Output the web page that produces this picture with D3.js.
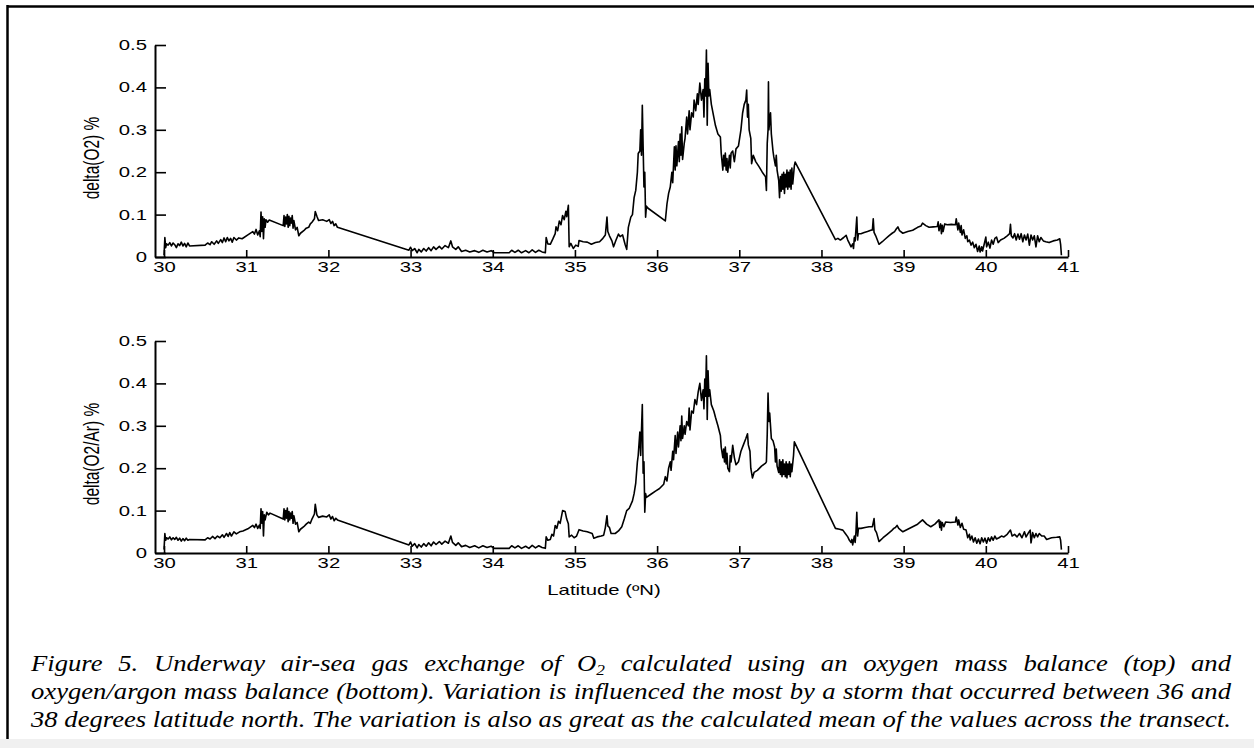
<!DOCTYPE html>
<html lang="en">
<head>
<meta charset="UTF-8">
<title>Figure 5 - delta O2</title>
<script src="https://cdn.jsdelivr.net/npm/d3@7"></script>
<style>
  body { margin: 0; background: #fff; overflow: hidden; }
</style>
</head>
<body>
<script>
// latitude (ºN), delta(O2) %
var o2Series = [
  [30.00,0.004],[30.01,0.046],[30.02,0.022],[30.03,0.031],[30.05,0.028],[30.07,0.034],[30.09,0.026],
  [30.11,0.033],[30.13,0.029],[30.15,0.022],[30.17,0.031],[30.19,0.027],[30.21,0.035],[30.23,0.026],
  [30.25,0.032],[30.27,0.024],[30.29,0.033],[30.31,0.026],[30.50,0.028],[30.53,0.033],[30.56,0.029],
  [30.58,0.036],[30.61,0.030],[30.64,0.038],[30.66,0.032],[30.69,0.041],[30.71,0.034],[30.73,0.045],
  [30.75,0.036],[30.77,0.046],[30.79,0.038],[30.81,0.044],[30.83,0.035],[30.85,0.046],[30.88,0.040],
  [30.91,0.045],[30.95,0.043],[31.02,0.052],[31.08,0.060],[31.10,0.054],[31.12,0.065],[31.14,0.052],
  [31.16,0.062],[31.17,0.048],[31.18,0.106],[31.19,0.060],[31.20,0.095],[31.21,0.043],[31.22,0.090],
  [31.23,0.070],[31.24,0.088],[31.26,0.082],[31.28,0.087],[31.45,0.074],[31.46,0.098],[31.47,0.072],
  [31.48,0.094],[31.49,0.078],[31.50,0.100],[31.51,0.070],[31.52,0.096],[31.53,0.074],[31.54,0.092],
  [31.55,0.080],[31.56,0.098],[31.57,0.068],[31.58,0.086],[31.60,0.064],[31.62,0.070],[31.64,0.050],
  [31.66,0.056],[31.70,0.062],[31.73,0.068],[31.76,0.070],[31.78,0.078],[31.80,0.082],[31.83,0.090],
  [31.84,0.107],[31.86,0.096],[31.88,0.086],[31.93,0.088],[31.98,0.084],[32.01,0.088],[32.03,0.079],
  [32.05,0.084],[32.07,0.074],[32.09,0.078],[32.11,0.070],[32.98,0.016],[33.00,0.023],[33.02,0.015],
  [33.05,0.020],[33.08,0.010],[33.10,0.018],[33.13,0.012],[33.16,0.020],[33.19,0.014],[33.22,0.022],
  [33.25,0.015],[33.28,0.024],[33.31,0.018],[33.35,0.025],[33.38,0.019],[33.42,0.027],[33.46,0.022],
  [33.49,0.038],[33.51,0.024],[33.55,0.018],[33.58,0.024],[33.62,0.013],[33.67,0.016],[33.72,0.012],
  [33.78,0.015],[33.83,0.011],[33.88,0.016],[33.93,0.012],[33.98,0.015],[34.02,0.010],[34.20,0.010],
  [34.23,0.016],[34.27,0.011],[34.31,0.016],[34.35,0.010],[34.40,0.015],[34.44,0.010],[34.48,0.017],
  [34.52,0.011],[34.56,0.016],[34.60,0.012],[34.64,0.010],[34.65,0.046],[34.67,0.031],[34.70,0.030],
  [34.73,0.042],[34.76,0.055],[34.77,0.071],[34.79,0.062],[34.81,0.085],[34.83,0.076],[34.85,0.098],
  [34.87,0.088],[34.89,0.108],[34.90,0.095],[34.92,0.122],[34.93,0.024],[34.95,0.032],[34.98,0.020],
  [35.01,0.028],[35.04,0.025],[35.05,0.039],[35.10,0.036],[35.15,0.035],[35.20,0.030],[35.25,0.034],
  [35.30,0.036],[35.34,0.044],[35.37,0.052],[35.39,0.094],[35.40,0.060],[35.42,0.050],[35.45,0.038],
  [35.47,0.024],[35.50,0.040],[35.53,0.054],[35.55,0.048],[35.58,0.052],[35.61,0.030],[35.63,0.018],
  [35.65,0.070],[35.68,0.094],[35.70,0.100],[35.72,0.140],[35.74,0.157],[35.76,0.200],[35.77,0.244],
  [35.79,0.250],[35.80,0.300],[35.81,0.240],[35.82,0.358],[35.83,0.260],[35.84,0.165],[35.85,0.200],
  [35.86,0.094],[35.87,0.120],[35.89,0.115],[36.10,0.085],[36.12,0.125],[36.14,0.150],[36.16,0.165],
  [36.18,0.200],[36.19,0.175],[36.21,0.260],[36.22,0.205],[36.23,0.262],[36.24,0.215],[36.26,0.272],
  [36.27,0.225],[36.28,0.290],[36.29,0.240],[36.30,0.307],[36.31,0.230],[36.33,0.268],[36.34,0.280],
  [36.36,0.330],[36.37,0.290],[36.39,0.345],[36.40,0.300],[36.42,0.340],[36.44,0.330],[36.45,0.370],
  [36.47,0.345],[36.49,0.385],[36.50,0.360],[36.52,0.410],[36.54,0.370],[36.56,0.395],[36.57,0.330],
  [36.58,0.420],[36.59,0.380],[36.60,0.488],[36.61,0.311],[36.62,0.457],[36.63,0.380],[36.64,0.395],
  [36.66,0.360],[36.69,0.330],[36.71,0.310],[36.74,0.290],[36.77,0.283],[36.78,0.245],[36.80,0.205],
  [36.81,0.240],[36.82,0.215],[36.83,0.245],[36.84,0.205],[36.85,0.232],[36.86,0.200],[36.88,0.240],
  [36.89,0.210],[36.90,0.245],[36.92,0.250],[36.94,0.225],[36.96,0.255],[36.99,0.262],[37.02,0.300],
  [37.04,0.339],[37.06,0.360],[37.08,0.370],[37.09,0.394],[37.10,0.330],[37.11,0.360],[37.12,0.300],
  [37.14,0.280],[37.15,0.220],[37.17,0.240],[37.20,0.225],[37.24,0.213],[37.28,0.200],[37.32,0.189],
  [37.33,0.157],[37.34,0.268],[37.35,0.300],[37.355,0.413],[37.36,0.300],[37.38,0.340],[37.39,0.290],
  [37.41,0.250],[37.42,0.236],[37.44,0.215],[37.45,0.240],[37.46,0.205],[37.48,0.180],[37.49,0.140],
  [37.50,0.190],[37.51,0.155],[37.52,0.195],[37.53,0.160],[37.54,0.200],[37.55,0.150],[37.56,0.195],
  [37.57,0.165],[37.58,0.205],[37.59,0.160],[37.60,0.200],[37.61,0.165],[37.62,0.205],[37.63,0.160],
  [37.64,0.210],[37.65,0.172],[37.67,0.215],[37.68,0.224],[38.17,0.041],[38.20,0.044],[38.23,0.040],
  [38.27,0.046],[38.30,0.051],[38.32,0.040],[38.34,0.032],[38.36,0.024],[38.38,0.031],[38.39,0.020],
  [38.40,0.045],[38.41,0.038],[38.43,0.094],[38.44,0.040],[38.45,0.055],[38.48,0.055],[38.52,0.058],
  [38.56,0.060],[38.60,0.063],[38.62,0.064],[38.63,0.090],[38.64,0.058],[38.66,0.050],[38.70,0.030],
  [38.74,0.036],[38.78,0.043],[38.82,0.050],[38.86,0.056],[38.89,0.060],[38.91,0.066],[38.93,0.071],
  [38.95,0.062],[38.99,0.056],[39.05,0.060],[39.11,0.063],[39.17,0.070],[39.21,0.073],[39.23,0.080],
  [39.27,0.074],[39.31,0.070],[39.36,0.071],[39.41,0.072],[39.42,0.083],[39.43,0.062],[39.45,0.078],
  [39.46,0.055],[39.47,0.075],[39.48,0.060],[39.50,0.078],[39.53,0.076],[39.58,0.077],[39.63,0.076],
  [39.64,0.090],[39.66,0.064],[39.67,0.080],[39.69,0.058],[39.70,0.074],[39.71,0.052],[39.73,0.064],
  [39.75,0.044],[39.77,0.050],[39.78,0.036],[39.80,0.040],[39.82,0.028],[39.84,0.035],[39.86,0.022],
  [39.88,0.030],[39.90,0.013],[39.92,0.026],[39.93,0.012],[39.95,0.024],[39.96,0.014],[39.98,0.030],
  [40.00,0.047],[40.01,0.024],[40.03,0.035],[40.05,0.021],[40.07,0.040],[40.09,0.030],[40.11,0.044],
  [40.13,0.047],[40.15,0.034],[40.18,0.040],[40.22,0.044],[40.26,0.050],[40.29,0.055],[40.30,0.077],
  [40.31,0.050],[40.33,0.045],[40.35,0.055],[40.37,0.040],[40.39,0.054],[40.41,0.042],[40.43,0.055],
  [40.45,0.036],[40.47,0.052],[40.49,0.040],[40.51,0.054],[40.53,0.028],[40.55,0.052],[40.57,0.040],
  [40.59,0.050],[40.61,0.024],[40.63,0.050],[40.65,0.036],[40.67,0.046],[40.70,0.038],[40.73,0.036],
  [40.77,0.034],[40.82,0.038],[40.87,0.040],[40.90,0.043],[40.91,0.030],[40.92,0.004]
];

// latitude (ºN), delta(O2/Ar) %
var o2arSeries = [
  [30.00,0.008],[30.01,0.046],[30.02,0.030],[30.03,0.036],[30.05,0.033],[30.07,0.038],[30.09,0.031],
  [30.11,0.036],[30.13,0.032],[30.15,0.037],[30.17,0.030],[30.19,0.035],[30.21,0.028],[30.23,0.034],
  [30.25,0.029],[30.27,0.035],[30.29,0.030],[30.31,0.032],[30.50,0.031],[30.53,0.036],[30.56,0.033],
  [30.59,0.039],[30.62,0.034],[30.65,0.040],[30.68,0.036],[30.71,0.043],[30.73,0.037],[30.76,0.046],
  [30.78,0.039],[30.80,0.048],[30.82,0.040],[30.85,0.050],[30.88,0.045],[30.92,0.050],[30.96,0.052],
  [31.02,0.057],[31.08,0.065],[31.10,0.060],[31.12,0.068],[31.14,0.058],[31.16,0.066],[31.17,0.058],
  [31.18,0.104],[31.19,0.070],[31.20,0.098],[31.21,0.040],[31.22,0.090],[31.23,0.078],[31.25,0.096],
  [31.27,0.090],[31.29,0.094],[31.45,0.080],[31.46,0.104],[31.47,0.078],[31.48,0.100],[31.49,0.082],
  [31.50,0.106],[31.51,0.074],[31.52,0.098],[31.53,0.078],[31.54,0.094],[31.55,0.082],[31.56,0.098],
  [31.57,0.070],[31.58,0.088],[31.60,0.068],[31.62,0.072],[31.64,0.050],[31.66,0.056],[31.70,0.062],
  [31.73,0.068],[31.76,0.073],[31.78,0.070],[31.80,0.080],[31.83,0.092],[31.84,0.115],[31.86,0.090],
  [31.88,0.084],[31.93,0.087],[31.98,0.085],[32.01,0.090],[32.03,0.080],[32.05,0.086],[32.07,0.076],
  [32.09,0.082],[32.11,0.078],[32.98,0.019],[33.00,0.026],[33.02,0.016],[33.05,0.022],[33.08,0.012],
  [33.10,0.020],[33.13,0.014],[33.16,0.022],[33.19,0.016],[33.22,0.024],[33.25,0.017],[33.28,0.026],
  [33.31,0.020],[33.35,0.027],[33.38,0.021],[33.42,0.028],[33.46,0.023],[33.49,0.040],[33.51,0.025],
  [33.55,0.018],[33.58,0.024],[33.62,0.015],[33.67,0.018],[33.72,0.013],[33.78,0.017],[33.83,0.012],
  [33.88,0.017],[33.93,0.013],[33.98,0.016],[34.02,0.011],[34.20,0.011],[34.23,0.017],[34.27,0.012],
  [34.31,0.017],[34.35,0.011],[34.40,0.016],[34.44,0.011],[34.48,0.018],[34.52,0.012],[34.56,0.017],
  [34.60,0.013],[34.64,0.011],[34.65,0.038],[34.67,0.030],[34.70,0.032],[34.72,0.044],[34.74,0.040],
  [34.76,0.065],[34.78,0.058],[34.80,0.075],[34.82,0.070],[34.84,0.090],[34.85,0.100],[34.88,0.098],
  [34.90,0.080],[34.92,0.069],[34.93,0.038],[34.96,0.042],[34.99,0.036],[35.02,0.040],[35.05,0.055],
  [35.10,0.052],[35.15,0.050],[35.21,0.046],[35.23,0.035],[35.27,0.038],[35.32,0.040],[35.35,0.042],
  [35.37,0.060],[35.39,0.088],[35.40,0.064],[35.42,0.060],[35.44,0.046],[35.49,0.046],[35.53,0.052],
  [35.57,0.062],[35.60,0.080],[35.63,0.100],[35.66,0.105],[35.70,0.123],[35.72,0.140],[35.74,0.165],
  [35.76,0.215],[35.77,0.230],[35.79,0.285],[35.80,0.230],[35.82,0.350],[35.83,0.188],[35.84,0.215],
  [35.85,0.096],[35.86,0.140],[35.87,0.131],[35.92,0.138],[35.98,0.146],[36.03,0.152],[36.08,0.162],
  [36.10,0.180],[36.12,0.170],[36.14,0.200],[36.16,0.215],[36.17,0.195],[36.19,0.240],[36.20,0.220],
  [36.22,0.277],[36.23,0.235],[36.25,0.285],[36.26,0.250],[36.28,0.300],[36.29,0.265],[36.30,0.323],
  [36.31,0.270],[36.33,0.300],[36.34,0.280],[36.36,0.310],[36.38,0.300],[36.39,0.342],[36.40,0.290],
  [36.42,0.335],[36.44,0.330],[36.46,0.362],[36.48,0.350],[36.50,0.380],[36.52,0.400],[36.54,0.360],
  [36.56,0.385],[36.57,0.340],[36.58,0.410],[36.59,0.370],[36.60,0.465],[36.61,0.315],[36.62,0.430],
  [36.63,0.370],[36.64,0.385],[36.66,0.350],[36.69,0.335],[36.71,0.320],[36.74,0.300],[36.77,0.277],
  [36.78,0.250],[36.80,0.225],[36.81,0.245],[36.82,0.215],[36.83,0.250],[36.84,0.210],[36.85,0.235],
  [36.86,0.200],[36.88,0.192],[36.89,0.230],[36.90,0.215],[36.92,0.254],[36.94,0.225],[36.96,0.208],
  [36.99,0.215],[37.02,0.240],[37.05,0.255],[37.08,0.270],[37.10,0.281],[37.11,0.255],[37.13,0.240],
  [37.14,0.200],[37.16,0.177],[37.18,0.190],[37.22,0.195],[37.27,0.205],[37.32,0.212],[37.33,0.215],
  [37.34,0.280],[37.35,0.377],[37.36,0.310],[37.37,0.330],[37.39,0.270],[37.41,0.265],[37.43,0.250],
  [37.44,0.215],[37.45,0.245],[37.46,0.205],[37.48,0.190],[37.49,0.220],[37.50,0.185],[37.51,0.215],
  [37.52,0.180],[37.53,0.220],[37.54,0.185],[37.55,0.210],[37.56,0.180],[37.57,0.215],[37.58,0.177],
  [37.59,0.210],[37.60,0.185],[37.61,0.215],[37.62,0.180],[37.63,0.210],[37.64,0.192],[37.66,0.230],
  [37.67,0.262],[38.17,0.058],[38.22,0.056],[38.26,0.054],[38.29,0.046],[38.32,0.038],[38.34,0.030],
  [38.36,0.025],[38.37,0.032],[38.38,0.019],[38.40,0.040],[38.41,0.025],[38.42,0.050],[38.43,0.096],
  [38.44,0.040],[38.45,0.058],[38.48,0.058],[38.53,0.060],[38.58,0.062],[38.62,0.062],[38.64,0.081],
  [38.65,0.055],[38.67,0.048],[38.70,0.027],[38.75,0.036],[38.80,0.044],[38.85,0.052],[38.88,0.058],
  [38.90,0.060],[38.92,0.065],[38.94,0.058],[38.99,0.050],[39.05,0.056],[39.11,0.062],[39.17,0.068],
  [39.23,0.078],[39.28,0.068],[39.33,0.062],[39.38,0.068],[39.43,0.078],[39.44,0.060],[39.45,0.075],
  [39.46,0.054],[39.47,0.072],[39.49,0.062],[39.51,0.073],[39.57,0.072],[39.63,0.073],[39.64,0.085],
  [39.66,0.066],[39.67,0.078],[39.69,0.060],[39.71,0.070],[39.73,0.056],[39.76,0.054],[39.78,0.036],
  [39.80,0.044],[39.81,0.031],[39.83,0.040],[39.85,0.026],[39.87,0.036],[39.89,0.023],[39.91,0.033],
  [39.93,0.022],[39.95,0.036],[39.97,0.026],[39.99,0.035],[40.01,0.023],[40.03,0.036],[40.05,0.028],
  [40.07,0.038],[40.09,0.030],[40.11,0.040],[40.13,0.033],[40.16,0.036],[40.19,0.040],[40.22,0.038],
  [40.26,0.044],[40.30,0.054],[40.32,0.040],[40.35,0.044],[40.38,0.038],[40.41,0.046],[40.44,0.036],
  [40.47,0.050],[40.49,0.038],[40.52,0.048],[40.54,0.054],[40.55,0.024],[40.57,0.048],[40.59,0.036],
  [40.61,0.046],[40.63,0.038],[40.65,0.046],[40.68,0.040],[40.71,0.040],[40.74,0.032],[40.80,0.036],
  [40.86,0.037],[40.90,0.038],[40.91,0.030],[40.92,0.008]
];

var xTicks = [30,31,32,33,34,35,36,37,38,39,40,41];
var yTicks = [0,0.1,0.2,0.3,0.4,0.5];
var yLabels = ["delta(O2) %", "delta(O2/Ar) %"];
var xLabel = "Latitude (ºN)";
var captionLines = [
  "Figure 5. Underway air-sea gas exchange of O2 calculated using an oxygen mass balance (top) and",
  "oxygen/argon mass balance (bottom). Variation is influenced the most by a storm that occurred between 36 and",
  "38 degrees latitude north. The variation is also as great as the calculated mean of the values across the transect."
];

var width = 1254;
var height = 748;
var stretch = 1.45;   // the figure text is drawn wide
var sans = "'Liberation Sans', Arial, Helvetica, sans-serif";

var svg = d3.select("body").append("svg")
    .attr("width", width)
    .attr("height", height);

// frame round the figure
svg.append("rect").attr("x", 0).attr("y", 739).attr("width", width).attr("height", 9).attr("fill", "#f0f0f0");
svg.append("line").attr("x1", 7).attr("x2", width).attr("y1", 6.5).attr("y2", 6.5)
    .attr("stroke", "#000").attr("stroke-width", 2.5);
svg.append("line").attr("x1", 7.5).attr("x2", 7.5).attr("y1", 5).attr("y2", 739)
    .attr("stroke", "#000").attr("stroke-width", 2.5);

var xScale = d3.scaleLinear()
    .domain([29.89, 41])
    .range([155, 1068]);

function drawPanel(series, top, bottom, label, showXLabel) {
    var yScale = d3.scaleLinear()
        .domain([0, 0.5])
        .range([bottom, top]);

    var xAxis = d3.axisBottom(xScale)
        .tickValues(xTicks)
        .tickSizeInner(-7)
        .tickSizeOuter(0)
        .tickPadding(5)
        .tickFormat(d3.format("d"));
    var yAxis = d3.axisLeft(yScale)
        .tickValues(yTicks)
        .tickSizeInner(-11)
        .tickSizeOuter(0)
        .tickPadding(8)
        .tickFormat(function (d) { return d === 0 ? "0" : d3.format(".1f")(d); });

    var line = d3.line()
        .x(function (d) { return xScale(d[0]); })
        .y(function (d) { return yScale(d[1]); });

    svg.append("path")
        .datum(series)
        .attr("d", line)
        .attr("fill", "none")
        .attr("stroke", "#000")
        .attr("stroke-width", 1.6)
        .attr("stroke-linejoin", "round");

    var gx = svg.append("g")
        .attr("transform", "translate(0," + bottom + ")")
        .call(xAxis);
    var gy = svg.append("g")
        .attr("transform", "translate(155,0)")
        .call(yAxis);

    [gx, gy].forEach(function (g) {
        g.select(".domain").attr("stroke-width", 2);
        g.selectAll(".tick line").attr("stroke-width", 1.6);
        g.selectAll("text")
            .attr("font-family", sans)
            .attr("font-size", 14)
            .attr("fill", "#000");
    });
    gx.selectAll("text").attr("transform", "scale(" + stretch + ",1)");
    gy.selectAll("text")
        .attr("x", -8 / stretch)
        .attr("transform", "scale(" + stretch + ",1)");

    svg.append("text")
        .attr("transform", "translate(99," + ((top + bottom) / 2 + 7) + ") scale(" + stretch + ",1) rotate(-90)")
        .attr("text-anchor", "middle")
        .attr("font-family", sans)
        .attr("font-size", 15.5)
        .text(label);

    if (showXLabel) {
        svg.append("text")
            .attr("transform", "translate(604," + (bottom + 42) + ") scale(" + stretch + ",1)")
            .attr("text-anchor", "middle")
            .attr("font-family", sans)
            .attr("font-size", 14)
            .text(xLabel);
    }
}

drawPanel(o2Series, 45, 257, yLabels[0], false);
drawPanel(o2arSeries, 341, 553, yLabels[1], true);

// caption, justified between capLeft and capRight
var capLeft = 31, capRight = 1231, capSize = 23;
var capBase = [671, 699, 727];
var serif = "'Liberation Serif', 'Times New Roman', Times, serif";

function addWord(g, w) {
    var t = g.append("text")
        .style("font-family", serif)
        .style("font-style", "italic")
        .style("font-size", capSize + "px")
        .attr("fill", "#000");
    if (w === "O2") {
        t.text("O");
        t.append("tspan").style("font-size", (capSize * 0.65) + "px").attr("dy", 4).text("2");
    } else {
        t.text(w);
    }
    return t;
}

// natural width of the last (fullest) line decides the horizontal stretch
var probe = addWord(svg, captionLines[2]);
var capStretch = (capRight - capLeft) / probe.node().getComputedTextLength();
probe.remove();

captionLines.forEach(function (txt, i) {
    var g = svg.append("g")
        .attr("transform", "translate(" + capLeft + "," + capBase[i] + ") scale(" + capStretch + ",1)");
    var words = txt.split(" ");
    var nodes = words.map(function (w) { return addWord(g, w); });
    var widths = nodes.map(function (n) { return n.node().getComputedTextLength(); });
    var avail = (capRight - capLeft) / capStretch;
    var gap = (avail - d3.sum(widths)) / (words.length - 1);
    var x = 0;
    nodes.forEach(function (n, k) {
        n.attr("x", x);
        x += widths[k] + gap;
    });
});
</script>
</body>
</html>
